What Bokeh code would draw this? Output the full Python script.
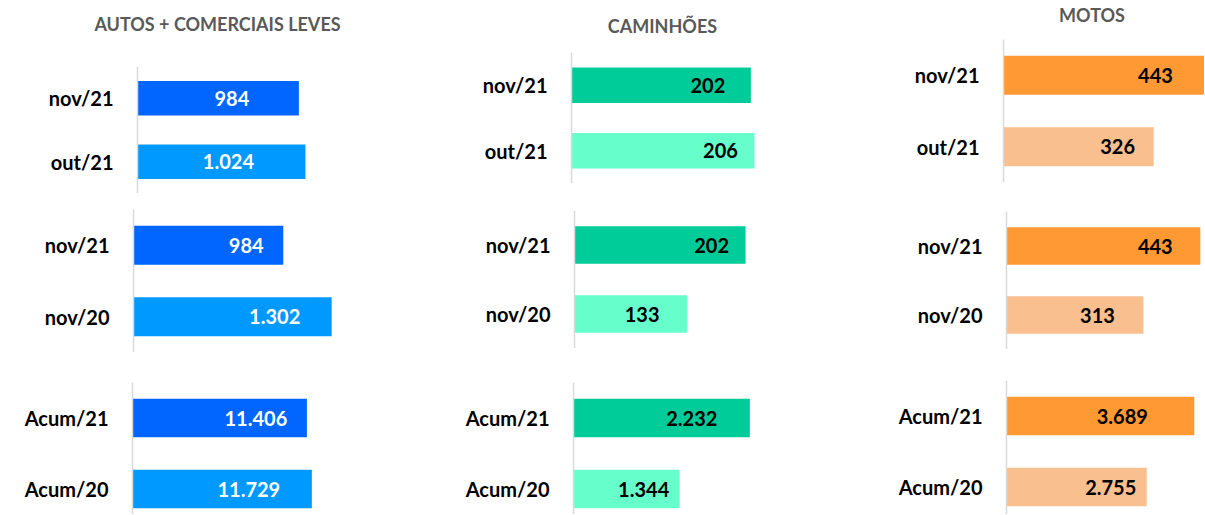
from bokeh.plotting import figure
from bokeh.layouts import column, row
from bokeh.models import ColumnDataSource, Range1d, FixedTicker, Spacer
from bokeh.core.properties import value
from bokeh.embed import file_html
from bokeh.resources import INLINE

# ---------------- data ----------------
titles = ["AUTOS + COMERCIAIS LEVES", "CAMINHÕES", "MOTOS"]
periods = [["nov/21", "out/21"], ["nov/21", "nov/20"], ["Acum/21", "Acum/20"]]
autos = [[984, 1024], [984, 1302], [11406, 11729]]
caminhoes = [[202, 206], [202, 133], [2232, 1344]]
motos = [[443, 326], [443, 313], [3689, 2755]]
series = [autos, caminhoes, motos]

# ---------------- styles ----------------
FONT = "Lato"
dark = ["#0066FF", "#00CC99", "#FF9933"]
light = ["#0099FF", "#66FFCC", "#F9BF8F"]
value_color = ["white", "black", "black"]

# ---------------- layout geometry (pixels) ----------------
col_width = [440, 430, 334]
top_border = [66, 52, 39]
# title centre in pixels inside each column's title strip (x from left, y from top)
title_pos = [(217, 23.5), (222, 25.5), (221.5, 14.5)]
frame_left = [[137, 133, 132], [131, 134, 133], [133, 136, 136]]
frame_h = [[127, 143, 132], [131, 138, 132], [143, 138, 134]]
gaps = [[16, 30], [27, 34], [29, 31]]
px_per_unit = [[0.164, 0.1522, 0.01529], [0.888, 0.847, 0.079], [0.4605, 0.4375, 0.0509]]
label_shift = [[[67, 77], [37, 57], [51, 63]],
               [[43, 34], [34, 45], [58, 36]],
               [[52, 36], [45, 46], [72, 36]]]
ROW_STEP = 71.0


def fmt(v):
    return f"{v:,}".replace(",", ".")


def style(p):
    p.outline_line_color = None
    p.grid.visible = False
    p.background_fill_color = "white"
    p.border_fill_color = "white"


def title_strip(ci):
    w, h = col_width[ci], top_border[ci]
    p = figure(width=w, height=h, x_range=Range1d(0, w), y_range=Range1d(0, h),
               x_axis_location=None, y_axis_location=None,
               output_backend="svg", toolbar_location=None, title=None,
               min_border_left=0, min_border_right=0,
               min_border_top=0, min_border_bottom=0)
    style(p)
    tx, ty = title_pos[ci]
    p.text(x=[tx], y=[h - ty], text=[titles[ci]], text_align="center",
           text_baseline="middle", text_font=value(FONT),
           text_font_style="bold", text_font_size="18px",
           text_color="#595959")
    return p


def panel(ci, ri):
    cats = periods[ri]
    vals = series[ci][ri]
    n = len(cats)
    ys = [n - 1 - i for i in range(n)]
    fh = frame_h[ci][ri]
    mbl = frame_left[ci][ri]
    fw = col_width[ci] - mbl
    x_end = fw / px_per_unit[ci][ri]
    if ri < 2:
        yr = Range1d(-0.5, n - 0.5)
    else:
        yr = Range1d(n - 0.5 - fh / ROW_STEP, n - 0.5)
    p = figure(width=col_width[ci], height=fh,
               x_range=Range1d(0, x_end), y_range=yr,
               x_axis_location=None, y_axis_location="left",
               output_backend="svg", toolbar_location=None,
               title=None,
               min_border_left=mbl, min_border_right=0,
               min_border_top=0, min_border_bottom=0)
    style(p)

    src = ColumnDataSource(dict(
        y=ys, v=vals, lbl=[fmt(v) for v in vals],
        color=[dark[ci], light[ci]][:n],
        dx=[-d for d in label_shift[ci][ri]],
    ))
    p.hbar(y="y", left=0, right="v", height=0.545, fill_color="color",
           line_color=None, source=src)
    p.text(x="v", y="y", text="lbl", x_offset="dx", text_align="center",
           text_baseline="middle", text_font=value(FONT),
           text_font_style="bold", text_font_size="20px",
           text_color=value_color[ci], source=src)

    ax = p.yaxis[0]
    ax.ticker = FixedTicker(ticks=ys)
    ax.major_label_overrides = {y: c for y, c in zip(ys, cats)}
    ax.major_tick_line_color = None
    ax.minor_tick_line_color = None
    ax.major_tick_out = 0
    ax.major_tick_in = 0
    ax.axis_line_color = "#D9D9D9"
    ax.axis_line_width = 1.5
    ax.major_label_text_font = FONT
    ax.major_label_text_font_style = "bold"
    ax.major_label_text_font_size = "20px"
    ax.major_label_text_color = "black"
    ax.major_label_standoff = 24
    return p


cols = []
for ci in range(3):
    kids = [row(title_strip(ci))]
    for ri in range(3):
        kids.append(row(panel(ci, ri)))
        if ri < 2:
            kids.append(Spacer(width=col_width[ci], height=gaps[ci][ri]))
    cols.append(column(*kids, spacing=0))

layout = row(*cols, spacing=0)

open("out.html", "w").write(file_html(layout, INLINE))
